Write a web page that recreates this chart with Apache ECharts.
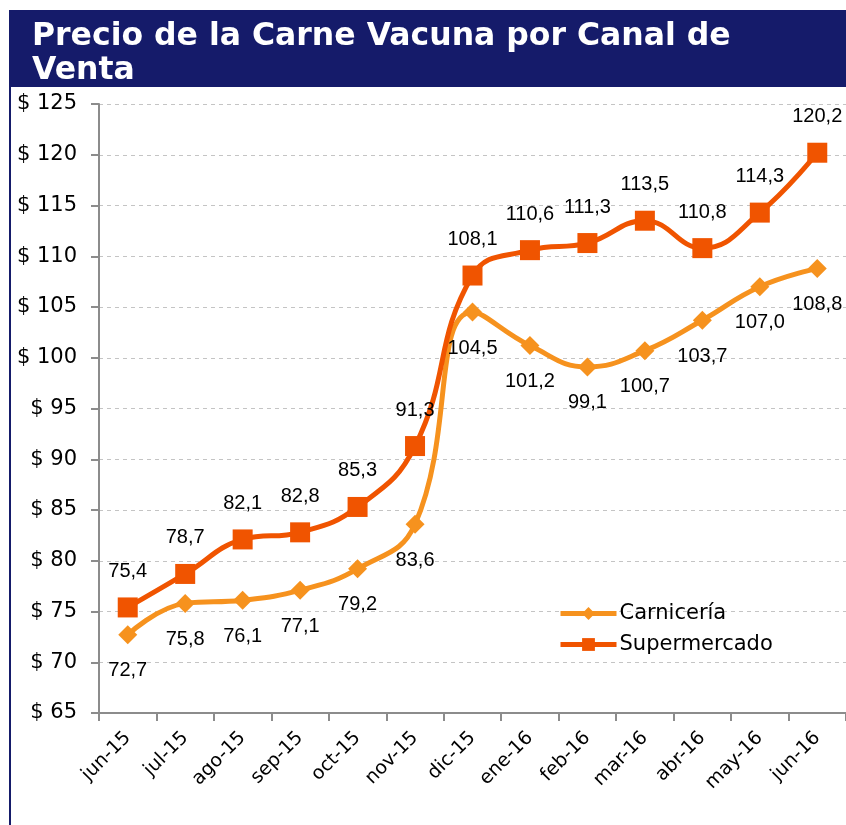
<!DOCTYPE html>
<html>
<head>
<meta charset="utf-8">
<script src="https://cdn.jsdelivr.net/npm/echarts@6/dist/echarts.min.js"></script>
<style>
  html, body { margin: 0; padding: 0; background: #fff; }
  #main { width: 846px; height: 825px; }
</style>
</head>
<body>
<div id="main"></div>
<script>
// datos del grafico
let meses = ['jun-15', 'jul-15', 'ago-15', 'sep-15', 'oct-15', 'nov-15', 'dic-15',
  'ene-16', 'feb-16', 'mar-16', 'abr-16', 'may-16', 'jun-16'];
let carniceria = [72.7, 75.8, 76.1, 77.1, 79.2, 83.6, 104.5, 101.2, 99.1, 100.7, 103.7, 107.0, 108.8];
let supermercado = [75.4, 78.7, 82.1, 82.8, 85.3, 91.3, 108.1, 110.6, 111.3, 113.5, 110.8, 114.3, 120.2];
let yMin = 65;
let yMax = 125;
let yStep = 5;

let navy = '#151B6A';
let colorCarn = '#F6921E';
let colorSuper = '#F05400';

let chart = echarts.init(document.getElementById('main'), null, { renderer: 'canvas' });

// etiqueta con coma decimal
function fmt(p) {
  return p.value.toFixed(1).replace('.', ',');
}

let labelFont = {
  fontFamily: 'Liberation Sans',
  fontSize: 20,
  color: '#000'
};

let option = {
  animation: false,
  backgroundColor: '#fff',
  title: {
    text: 'Precio de la Carne Vacuna por Canal de\nVenta',
    left: 32,
    top: 20,
    padding: 0,
    textStyle: {
      color: '#fff',
      fontFamily: 'DejaVu Sans',
      fontWeight: 'bold',
      fontSize: 31.5,
      lineHeight: 34
    }
  },
  graphic: [
    {
      type: 'rect',
      z: -10,
      shape: { x: 9, y: 10, width: 840, height: 77 },
      style: { fill: navy }
    },
    {
      type: 'line',
      z: -10,
      shape: { x1: 10, y1: 10, x2: 10, y2: 825 },
      style: { stroke: navy, lineWidth: 2 }
    }
  ],
  legend: {
    orient: 'vertical',
    left: 553,
    top: 598,
    itemWidth: 56,
    itemHeight: 16,
    itemGap: 10,
    lineStyle: { width: 5 },
    textStyle: {
      fontFamily: 'DejaVu Sans',
      fontSize: 21,
      color: '#000',
      padding: [0, 0, 0, -2]
    },
    data: ['Carnicería', 'Supermercado']
  },
  grid: {
    left: 99,
    top: 104,
    width: 749,
    bottom: 112,
    containLabel: false
  },
  xAxis: {
    type: 'category',
    data: meses,
    boundaryGap: true,
    axisLine: { lineStyle: { color: '#8C8C8C', width: 2 } },
    axisTick: { show: true, length: 8, lineStyle: { color: '#8C8C8C', width: 2 } },
    axisLabel: {
      rotate: 45,
      margin: 22,
      fontFamily: 'DejaVu Sans',
      fontSize: 19,
      color: '#000'
    },
    splitLine: { show: false }
  },
  yAxis: {
    type: 'value',
    min: yMin,
    max: yMax,
    interval: yStep,
    axisLine: { show: true, lineStyle: { color: '#8C8C8C', width: 2 } },
    axisTick: { show: true, length: 8, lineStyle: { color: '#8C8C8C', width: 2 } },
    axisLabel: {
      margin: 22,
      fontFamily: 'DejaVu Sans',
      fontSize: 21,
      color: '#000',
      formatter: function (v) { return '$ ' + v; }
    },
    splitLine: {
      show: true,
      lineStyle: { color: '#C4C4C4', type: [4, 4], width: 1 }
    }
  },
  series: [
    {
      name: 'Carnicería',
      type: 'line',
      data: carniceria,
      smooth: 0.45,
      symbol: 'diamond',
      symbolSize: 19,
      lineStyle: { width: 5, color: colorCarn },
      itemStyle: { color: colorCarn },
      label: Object.assign({
        show: true,
        position: 'inside',
        offset: [0, 36],
        formatter: fmt
      }, labelFont)
    },
    {
      name: 'Supermercado',
      type: 'line',
      data: supermercado,
      smooth: 0.45,
      symbol: 'rect',
      symbolSize: 20,
      lineStyle: { width: 5, color: colorSuper },
      itemStyle: { color: colorSuper },
      label: Object.assign({
        show: true,
        position: 'inside',
        offset: [0, -36],
        formatter: fmt
      }, labelFont)
    }
  ]
};

chart.setOption(option);
</script>
</body>
</html>
